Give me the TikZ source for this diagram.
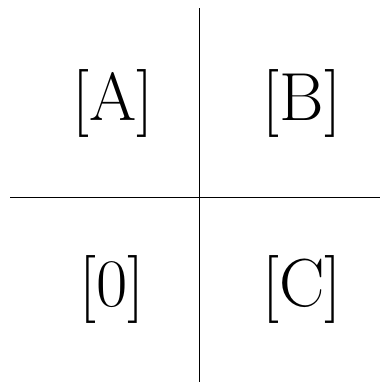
\documentclass[tikz,border=0pt]{standalone}
\usepackage{tikz}
\usetikzlibrary{positioning, calc}

\begin{document}
\begin{tikzpicture}[x=0.75pt, y=-0.75pt,
    quadlabel/.style={inner sep=0pt, font=\fontsize{51}{60}\selectfont}]
    \useasboundingbox (0,0) rectangle (380,382);
    % axes
    \coordinate (top) at (199,8);
    \coordinate (bottom) at (199,382);
    \coordinate (left) at (10,197);
    \coordinate (right) at (380,197);
    \draw[line width=0.7pt] (top) -- (bottom);
    \draw[line width=0.7pt] (left) -- (right);
    % quadrant labels
    \node[quadlabel] (qa) at (113,103) {[A]};
    \node[quadlabel] (qb) at (302,103) {[B]};
    \node[quadlabel] (q0) at (112,289) {[0]};
    \node[quadlabel] (qc) at (302,289) {[C]};
\end{tikzpicture}
\end{document}
